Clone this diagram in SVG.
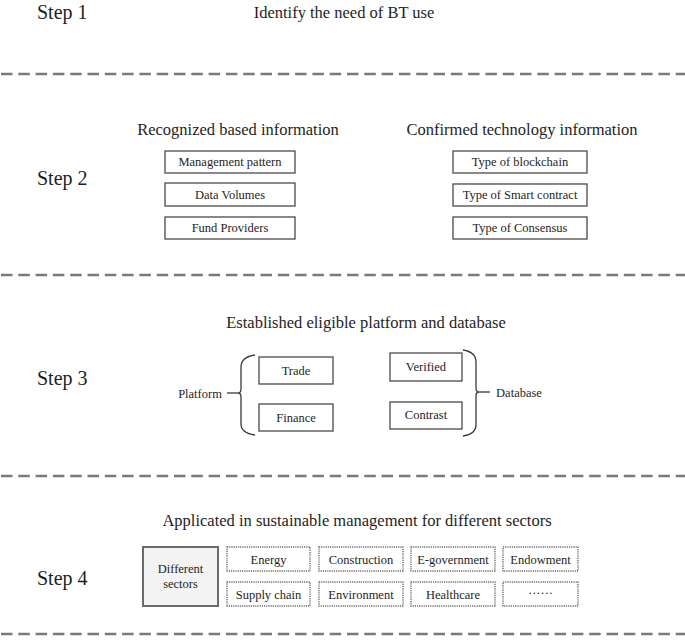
<svg xmlns="http://www.w3.org/2000/svg" width="685" height="641" viewBox="0 0 685 641">
<style>
text{fill:#1e1e1e;font-family:"Liberation Serif","Times New Roman",serif;}
.step{font-size:20px;}
.title{font-size:16.5px;text-anchor:middle;}
.bt{font-size:12.5px;text-anchor:middle;}
.box{fill:#fff;stroke:#4a4a4a;stroke-width:1.3;}
.dot{fill:#fff;stroke:#6a6a6a;stroke-width:1.4;stroke-dasharray:1.2 1;}
.sep{stroke:#7a7a7a;stroke-width:2.5;stroke-dasharray:11.5 5.8;fill:none;}
.ln{stroke:#3a3a3a;stroke-width:1.3;fill:none;}
</style>
<rect width="685" height="641" fill="#fff"/>
<g id="separators">
<line class="sep" x1="1" y1="74" x2="685" y2="74"/>
<line class="sep" x1="1" y1="275" x2="685" y2="275"/>
<line class="sep" x1="1" y1="476" x2="685" y2="476"/>
<line class="sep" x1="1" y1="634" x2="685" y2="634"/>
</g>
<g id="step1">
<text class="step" x="37" y="19">Step 1</text>
<text class="title" x="344" y="18">Identify the need of BT use</text>
</g>
<g id="step2">
<text class="step" x="37" y="185">Step 2</text>
<text class="title" x="238" y="135">Recognized based information</text>
<text class="title" x="522" y="135">Confirmed technology information</text>
<g id="n-management"><rect class="box" x="165" y="151" width="130" height="22"/><text class="bt" x="230" y="166">Management pattern</text></g>
<g id="n-data"><rect class="box" x="165" y="183" width="130" height="23"/><text class="bt" x="230" y="199">Data Volumes</text></g>
<g id="n-fund"><rect class="box" x="165" y="217" width="130" height="22"/><text class="bt" x="230" y="232">Fund Providers</text></g>
<g id="n-blockchain"><rect class="box" x="453" y="151" width="134" height="22"/><text class="bt" x="520" y="166">Type of blockchain</text></g>
<g id="n-smart"><rect class="box" x="453" y="184" width="134" height="22"/><text class="bt" x="520" y="199">Type of Smart contract</text></g>
<g id="n-consensus"><rect class="box" x="453" y="217" width="134" height="22"/><text class="bt" x="520" y="232">Type of Consensus</text></g>
</g>
<g id="step3">
<text class="step" x="37" y="385">Step 3</text>
<text class="title" x="366" y="328">Established eligible platform and database</text>
<g id="n-platform"><text class="bt" x="200" y="398">Platform</text></g>
<g id="n-trade"><rect class="box" x="259" y="357" width="74" height="27"/><text class="bt" x="296" y="375">Trade</text></g>
<g id="n-finance"><rect class="box" x="259" y="404" width="74" height="27"/><text class="bt" x="296" y="422">Finance</text></g>
<g id="n-verified"><rect class="box" x="390" y="353" width="72" height="28"/><text class="bt" x="426" y="371">Verified</text></g>
<g id="n-contrast"><rect class="box" x="390" y="402" width="72" height="27"/><text class="bt" x="426" y="419">Contrast</text></g>
<g id="n-database"><text class="bt" x="519" y="397">Database</text></g>
</g>
<g id="connectors">
<line class="ln" x1="227" y1="393" x2="238" y2="393"/>
<path class="ln" d="M255,355 Q241,357 241,367 L241,389 Q241,393 238,393 Q241,393 241,397 L241,424 Q241,433 255,435"/>
<path class="ln" d="M463,350 Q476,352 476,362 L476,388 Q476,392 479,392 Q476,392 476,396 L476,425 Q476,434 463,436"/>
<line class="ln" x1="479" y1="392" x2="490" y2="392"/>
</g>
<g id="step4">
<text class="step" x="37" y="585">Step 4</text>
<text class="title" x="357" y="526">Applicated in sustainable management for different sectors</text>
<g id="n-sectors"><rect x="143" y="547" width="75" height="59" fill="#f3f3f3" stroke="#6a6a6a" stroke-width="2"/><text class="bt" x="180.5" y="573">Different</text><text class="bt" x="180.5" y="588">sectors</text></g>
<g id="n-energy"><rect class="dot" x="227" y="547" width="83" height="24"/><text class="bt" x="268.5" y="564">Energy</text></g>
<g id="n-construction"><rect class="dot" x="319" y="547" width="84" height="24"/><text class="bt" x="361" y="564">Construction</text></g>
<g id="n-egov"><rect class="dot" x="411" y="547" width="84" height="24"/><text class="bt" x="453" y="564">E-government</text></g>
<g id="n-endowment"><rect class="dot" x="503" y="547" width="75" height="24"/><text class="bt" x="540.5" y="564">Endowment</text></g>
<g id="n-supply"><rect class="dot" x="227" y="582" width="83" height="24"/><text class="bt" x="268.5" y="599">Supply chain</text></g>
<g id="n-environment"><rect class="dot" x="319" y="582" width="84" height="24"/><text class="bt" x="361" y="599">Environment</text></g>
<g id="n-healthcare"><rect class="dot" x="411" y="582" width="84" height="24"/><text class="bt" x="453" y="599">Healthcare</text></g>
<g id="n-more"><rect class="dot" x="503" y="582" width="75" height="24"/><text class="bt" x="540.5" y="597">······</text></g>
</g>
</svg>
